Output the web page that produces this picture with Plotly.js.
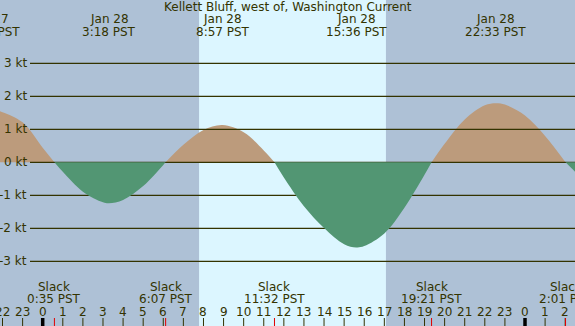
<!DOCTYPE html>
<html><head><meta charset="utf-8">
<script src="https://cdn.plot.ly/plotly-3.0.1.min.js"></script>
<style>html,body{margin:0;padding:0;background:#aec1d6;}#chart{width:575px;height:326px;}</style>
</head><body><div id="chart"></div>
<script>
const chartTitle = "Kellett Bluff, west of, Washington Current";
// hours relative to midnight Jan 28 (PST), current speed in knots (+ flood, - ebb)
const sampleHours = [-2.5, -2, -1, 0, 1, 2, 3, 4, 5, 6, 7, 8, 10, 11, 12, 13, 14, 15, 16, 17, 18, 19, 20, 21, 22, 23, 24, 25, 26.5, 27];
const sampleKt = [1.60, 1.52, 1.21, 0.44, -0.29, -0.89, -1.21, -1.14, -0.72, -0.08, 0.53, 0.98, 0.91, 0.36, -0.46, -1.33, -1.99, -2.48, -2.54, -2.16, -1.38, -0.38, 0.56, 1.30, 1.73, 1.75, 1.42, 0.80, -0.29, -0.58];
const peakHours = [-2.65, 3.30, 8.95, 15.60, 22.55];
const peakKt = [1.61, -1.24, 1.13, -2.58, 1.79];
const peakDates = ["Jan 27", "Jan 28", "Jan 28", "Jan 28", "Jan 28"];
const peakTimes = ["21:21 PST", "3:18 PST", "8:57 PST", "15:36 PST", "22:33 PST"];
const slackHours = [0.583, 6.117, 11.533, 19.35, 26.017];
const slackTimes = ["0:35 PST", "6:07 PST", "11:32 PST", "19:21 PST", "2:01 PST"];
const hourTicks = [-2, -1, 0, 1, 2, 3, 4, 5, 6, 7, 8, 9, 10, 11, 12, 13, 14, 15, 16, 17, 18, 19, 20, 21, 22, 23, 24, 25, 26];
const hourLabels = ["22", "23", "0", "1", "2", "3", "4", "5", "6", "7", "8", "9", "10", "11", "12", "13", "14", "15", "16", "17", "18", "19", "20", "21", "22", "23", "0", "1", "2"];
const midnightHours = [0, 24];
const daylightHours = [7.78, 17.08];
const gridKt = [3, 2, 1, 0, -1, -2, -3];
const gridLabels = ["3 kt", "2 kt", "1 kt", "0 kt", "-1 kt", "-2 kt", "-3 kt"];

const W = 575, H = 326;
const X_RANGE = [-2.125, 26.488];
const Y_RANGE = [-4.961, 4.918];
const TXT = '#333300';
const FONT = {family: 'DejaVu Sans', size: 12, color: TXT};
const FLOOD = '#bc9b7c', EBB = '#529673';

// merge the points and split into lobes between slack waters
let pts = [];
sampleHours.forEach((h, i) => pts.push([h, sampleKt[i]]));
peakHours.forEach((h, i) => pts.push([h, peakKt[i]]));
slackHours.forEach(h => pts.push([h, 0]));
pts.sort((a, b) => a[0] - b[0]);
let lobes = [], cur = [];
pts.forEach(p => {
  cur.push(p);
  if (p[1] === 0 && cur.length > 1) { lobes.push(cur); cur = [p]; }
});
if (cur.length > 1) lobes.push(cur);

const lobeTrace = (l) => {
  const s = l.reduce((a, p) => a + p[1], 0);
  return {
    x: l.map(p => p[0]), y: l.map(p => p[1]), type: 'scatter', mode: 'lines',
    line: {width: 0, shape: 'spline', smoothing: 1}, fill: 'tozeroy',
    fillcolor: s > 0 ? FLOOD : EBB, hoverinfo: 'skip', showlegend: false, _pos: s > 0
  };
};
const allLobes = lobes.map(lobeTrace);
const floodTraces = allLobes.filter(t => t._pos);
const ebbTraces = allLobes.filter(t => !t._pos);
[...floodTraces, ...ebbTraces].forEach(t => delete t._pos);

const gridStart = (30 - 42.7) / 20.096;
let gx = [], gy = [];
gridKt.forEach(v => { gx.push(gridStart, 27, null); gy.push(v, v, null); });
const gridTrace = {x: gx, y: gy, type: 'scatter', mode: 'lines', line: {color: TXT, width: 1.2}, hoverinfo: 'skip', showlegend: false};

const py = (px) => (H - px) / H; // pixel from top -> paper y
const hx = (h) => (h - X_RANGE[0]) / (X_RANGE[1] - X_RANGE[0]); // hour -> paper x (works beyond the range)
let ann = [];
const lab = (text, x, y, xa) => ({text: text, xref: 'paper', yref: 'paper', x: x, y: y, xanchor: xa || 'center', yanchor: 'middle', showarrow: false, font: FONT});
ann.push(lab(chartTitle, 0.5, py(7.2)));
peakHours.forEach((h, i) => {
  ann.push(lab(peakDates[i], hx(h), py(19.3)));
  ann.push(lab(peakTimes[i], hx(h), py(31.7)));
});
slackHours.forEach((h, i) => {
  ann.push(lab('Slack', hx(h), py(286.7)));
  ann.push(lab(slackTimes[i], hx(h), py(299.2)));
});
hourTicks.forEach((h, i) => ann.push(lab(hourLabels[i], hx(h), py(312))));
gridKt.forEach((v, i) => {
  ann.push({text: gridLabels[i], xref: 'paper', yref: 'y', x: 28.5 / W, y: v, xanchor: 'right', yanchor: 'middle', showarrow: false, font: FONT});
});

let shapes = [];
shapes.push({type: 'rect', xref: 'x', yref: 'paper', x0: daylightHours[0], x1: daylightHours[1], y0: 0, y1: 1, fillcolor: '#dcf6ff', line: {width: 0}, layer: 'below'});
hourTicks.forEach(h => {
  if (midnightHours.indexOf(h) >= 0) return;
  shapes.push({type: 'line', xref: 'x', yref: 'paper', x0: h, x1: h, y0: 0, y1: 8 / H, line: {color: TXT, width: 1}});
});
midnightHours.forEach(h => shapes.push({type: 'line', xref: 'x', yref: 'paper', x0: h, x1: h, y0: 0, y1: 8 / H, line: {color: '#000000', width: 3.5}}));
slackHours.forEach(h => shapes.push({type: 'line', xref: 'x', yref: 'paper', x0: h, x1: h, y0: 0, y1: 8 / H, line: {color: '#e00000', width: 1}}));

const layout = {
  width: W, height: H, margin: {l: 0, r: 0, t: 0, b: 0, pad: 0},
  paper_bgcolor: '#aec1d6', plot_bgcolor: '#aec1d6',
  xaxis: {range: X_RANGE, visible: false, fixedrange: true},
  yaxis: {range: Y_RANGE, visible: false, fixedrange: true},
  showlegend: false, annotations: ann, shapes: shapes, hovermode: false
};
Plotly.newPlot('chart', [...floodTraces, gridTrace, ...ebbTraces], layout, {staticPlot: true, displayModeBar: false});
</script>
</body></html>
